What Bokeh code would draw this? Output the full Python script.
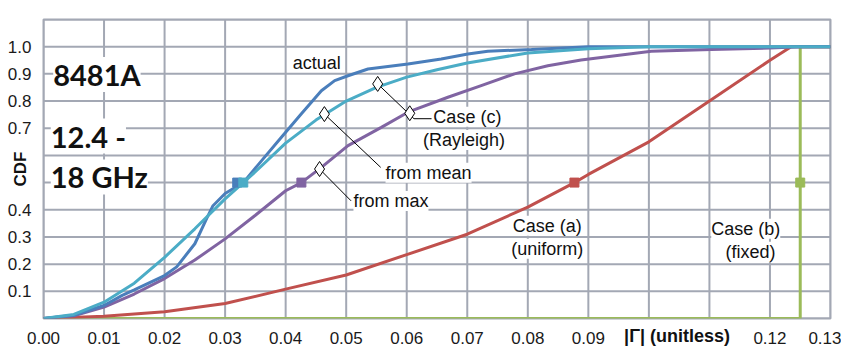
from bokeh.plotting import figure
from bokeh.models import FixedTicker, Label
from bokeh.embed import file_html
from bokeh.resources import INLINE

# ---- data ----
actual_x = [0, 0.005, 0.01, 0.013, 0.015, 0.02, 0.022, 0.025, 0.027, 0.028, 0.03, 0.033,
            0.036, 0.0393, 0.0426, 0.0459, 0.0481, 0.0503, 0.0536, 0.0602, 0.0657, 0.0701,
            0.0734, 0.0806, 0.09, 0.13]
actual_y = [0, 0.012, 0.048, 0.085, 0.105, 0.158, 0.19, 0.275, 0.37, 0.415, 0.46, 0.5,
            0.58, 0.667, 0.753, 0.838, 0.875, 0.893, 0.918, 0.936, 0.955, 0.973,
            0.983, 0.99, 1.0, 1.0]

mean_x = [0, 0.005, 0.01, 0.015, 0.02, 0.025, 0.03, 0.033, 0.035, 0.04, 0.045, 0.05,
          0.055, 0.06, 0.065, 0.07, 0.08, 0.09, 0.10, 0.13]
mean_y = [0, 0.015, 0.06, 0.13, 0.225, 0.33, 0.44, 0.5, 0.54, 0.645, 0.73, 0.80,
          0.85, 0.888, 0.915, 0.94, 0.977, 0.992, 1.0, 1.0]

max_x = [0, 0.005, 0.01, 0.015, 0.02, 0.025, 0.03, 0.035, 0.04, 0.0426, 0.0459, 0.0503,
         0.0558, 0.0602, 0.0668, 0.0723, 0.0778, 0.0833, 0.0888, 0.1004, 0.1103, 0.12,
         0.125, 0.13]
max_y = [0, 0.01, 0.042, 0.09, 0.147, 0.215, 0.293, 0.38, 0.47, 0.5, 0.556, 0.636,
         0.703, 0.759, 0.814, 0.857, 0.9, 0.93, 0.951, 0.983, 0.99, 0.995,
         1.0, 1.0]

uniform_x = [0, 0.01, 0.02, 0.03, 0.04, 0.05, 0.06, 0.07, 0.08, 0.0877, 0.09, 0.10,
             0.11, 0.12, 0.1235, 0.13]
uniform_y = [0, 0.008, 0.025, 0.055, 0.108, 0.16, 0.235, 0.31, 0.41, 0.5, 0.53, 0.65,
             0.8, 0.95, 1.0, 1.0]

fixed_x = [0, 0.125, 0.125, 0.13]
fixed_y = [0, 0, 1.0, 1.0]

marker_actual = ([0.032], [0.5])
marker_mean = ([0.033], [0.5])
marker_max = ([0.0426], [0.5])
marker_uniform = ([0.0877], [0.5])
marker_fixed = ([0.125], [0.5])

x_ticks = [0.0, 0.01, 0.02, 0.03, 0.04, 0.05, 0.06, 0.07, 0.08, 0.09, 0.10, 0.11, 0.12, 0.13]
x_tick_labels = ["0.00", "0.01", "0.02", "0.03", "0.04", "0.05", "0.06", "0.07", "0.08",
                 "0.09", "", "", "0.12", "0.13"]
y_ticks = [0.0, 0.1, 0.2, 0.3, 0.4, 0.5, 0.6, 0.7, 0.8, 0.9, 1.0, 1.1]
y_tick_labels = ["", "0.1", "0.2", "0.3", "0.4", "", "", "0.7", "0.8", "0.9", "1.0", ""]

# annotation diamonds and leader lines
diamond_x = [0.0552, 0.0605, 0.0464, 0.0456]
diamond_y = [0.863, 0.755, 0.752, 0.55]
lead_c_x = [0.0552, 0.0612, 0.0641]
lead_c_y = [0.863, 0.735, 0.735]
lead_mean_x = [0.0464, 0.0557]
lead_mean_y = [0.752, 0.556]
lead_max_x = [0.0456, 0.0508]
lead_max_y = [0.55, 0.433]

BLUE = "#4a7ebb"
CYAN = "#4bacc6"
PURPLE = "#8064a2"
RED = "#c0504d"
GREEN = "#9bbb59"
GRID = "#a3a8b4"
FONT = "Liberation Sans"

X0, X1 = 0.0, 0.13
Y0, Y1 = 0.0, 1.1

p = figure(width=834, height=334, x_range=(X0, X1), y_range=(Y0, Y1),
           output_backend="svg", toolbar_location=None,
           min_border_left=35, min_border_right=11, min_border_top=5, min_border_bottom=30)
p.styles = {"margin-left": "7px", "margin-top": "14px"}

p.outline_line_color = GRID
p.outline_line_width = 2
p.grid.visible = False

p.xaxis.ticker = FixedTicker(ticks=x_ticks)
p.xaxis.major_label_overrides = dict(zip(x_ticks, x_tick_labels))
p.yaxis.ticker = FixedTicker(ticks=y_ticks)
p.yaxis.major_label_overrides = dict(zip(y_ticks, y_tick_labels))
for ax in (p.xaxis, p.yaxis):
    ax.axis_line_color = None
    ax.major_tick_line_color = None
    ax.minor_tick_line_color = None
    ax.major_label_text_font = FONT
    ax.major_label_text_font_size = "17px"
    ax.major_label_text_color = "#1a1a1a"
p.xaxis.major_label_standoff = 7
p.yaxis.major_label_standoff = 6

p.yaxis.axis_label = "CDF"
p.yaxis.axis_label_text_font = FONT
p.yaxis.axis_label_text_font_size = "17px"
p.yaxis.axis_label_text_font_style = "bold"
p.yaxis.axis_label_text_color = "#111111"
p.yaxis.axis_label_standoff = -25

# x-axis title, shifted right (under 0.10-0.11) with leading no-break spaces
p.xaxis.axis_label = "\u00a0" * 96 + "|Γ| (unitless)"
p.xaxis.axis_label_text_font = FONT
p.xaxis.axis_label_text_font_size = "18px"
p.xaxis.axis_label_text_font_style = "bold"
p.xaxis.axis_label_text_color = "#111111"
p.xaxis.axis_label_standoff = -21

# grid lines drawn as glyphs at the tick positions (beneath the series)
p.multi_line(xs=[[t, t] for t in x_ticks], ys=[[Y0, Y1] for _ in x_ticks],
             line_color=GRID, line_width=2)
p.multi_line(xs=[[X0, X1] for _ in y_ticks], ys=[[t, t] for t in y_ticks],
             line_color=GRID, line_width=2)

# series
p.line(fixed_x, fixed_y, line_color=GREEN, line_width=3)
p.line(uniform_x, uniform_y, line_color=RED, line_width=3)
p.line(max_x, max_y, line_color=PURPLE, line_width=3)
p.line(actual_x, actual_y, line_color=BLUE, line_width=3)
p.line(mean_x, mean_y, line_color=CYAN, line_width=3)

p.scatter(*marker_fixed, marker="square", size=9, fill_color=GREEN, line_color=GREEN)
p.scatter(*marker_uniform, marker="square", size=9, fill_color=RED, line_color=RED)
p.scatter(*marker_max, marker="square", size=9, fill_color=PURPLE, line_color=PURPLE)
p.scatter(*marker_actual, marker="square", size=9, fill_color=BLUE, line_color=BLUE)
p.scatter(*marker_mean, marker="square", size=9, fill_color=CYAN, line_color=CYAN)

# leader lines + diamonds
for lx, ly in ((lead_c_x, lead_c_y), (lead_mean_x, lead_mean_y), (lead_max_x, lead_max_y)):
    p.line(lx, ly, line_color="black", line_width=1)
p.scatter(diamond_x, diamond_y, marker="diamond", size=15, fill_color="white",
          line_color="black", line_width=1)

def lab(x, y, text, align="left", size="18px", bold=False, font=FONT, bg="white"):
    l = Label(x=x, y=y, text=text, text_align=align, text_baseline="middle",
              text_font=font, text_font_size=size,
              text_font_style="bold" if bold else "normal",
              text_color="#111111", background_fill_color=bg)
    p.add_layout(l)

lab(0.04116, 0.940, "actual", bg=None)
lab(0.0565, 0.5365, "from mean")
lab(0.0512, 0.4327, "from max")
lab(0.0644, 0.742, "Case (c)")
lab(0.0627, 0.657, "(Rayleigh)")
lab(0.0832, 0.341, "Case (a)", align="center")
lab(0.0832, 0.257, "(uniform)", align="center")
lab(0.1160, 0.330, "Case (b)", align="center")
lab(0.1168, 0.246, "(fixed)", align="center")

lab(0.0016, 0.898, "8481A", size="29px", bold=True, font="Lato")
lab(0.0012, 0.671, "12.4 -", size="29px", bold=True, font="Lato")
lab(0.0012, 0.521, "18 GHz", size="29px", bold=True, font="Lato")

open("out.html", "w").write(file_html(p, INLINE))
